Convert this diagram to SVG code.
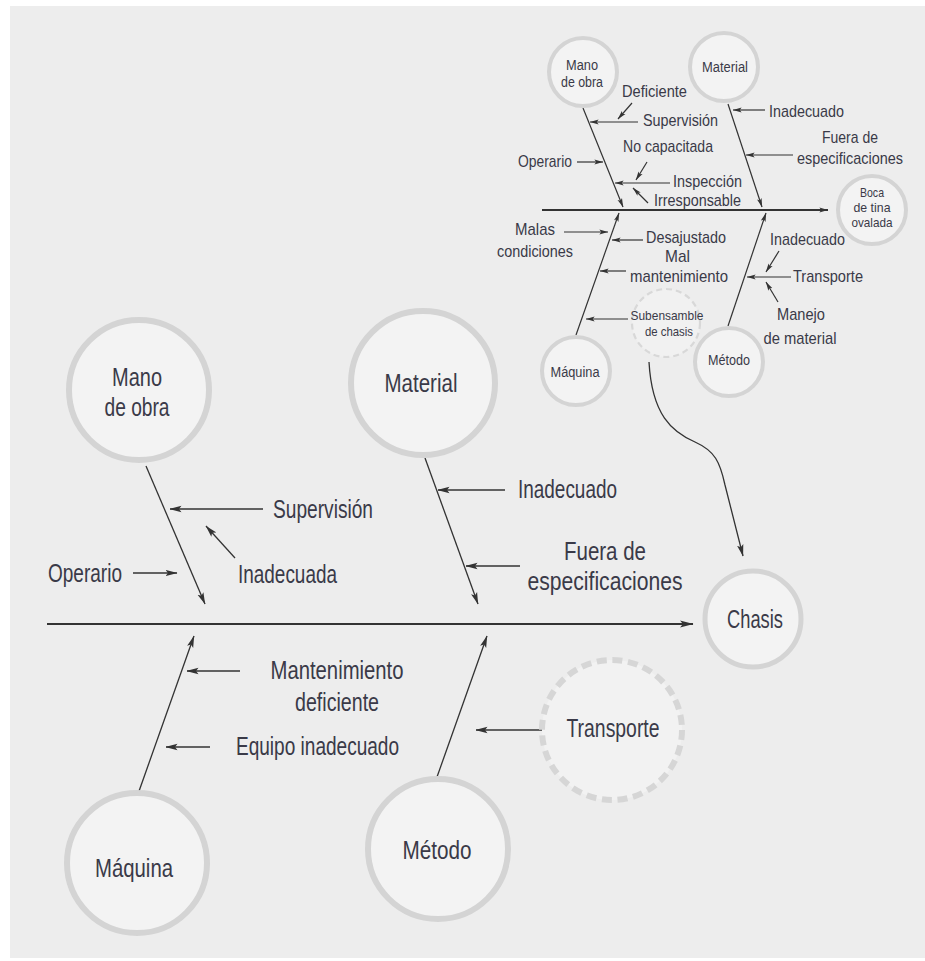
<svg xmlns="http://www.w3.org/2000/svg" width="925" height="961" viewBox="0 0 925 961">
<style>
.bg{fill:#ededed}
.c{fill:#f3f3f3;stroke:#d4d4d4;stroke-width:6}
.cs{fill:#f3f3f3;stroke:#d4d4d4;stroke-width:4}
.cd{fill:#f2f2f2;stroke:#d6d6d6;stroke-width:6;stroke-dasharray:10 5.7}
.cds{fill:#f1f1f1;stroke:#d8d8d8;stroke-width:2.2;stroke-dasharray:6 4}
.t{font-family:"Liberation Sans Narrow","Liberation Sans",Arial,sans-serif;fill:#3a3a48}
.L{font-size:26px}
.S{font-size:17px}
.N{font-size:14px}
.B{font-size:13px}
.m{text-anchor:middle}
.ln{stroke:#333;stroke-width:1.3;fill:none}
.sp{stroke:#333;stroke-width:2;fill:none}
.ls{stroke:#333;stroke-width:1.2;fill:none}
</style>
<defs>
<marker id="ah" viewBox="0 0 12 8" refX="11.5" refY="4" markerWidth="12" markerHeight="8" orient="auto" markerUnits="userSpaceOnUse"><path d="M0,0.8 L12,4 L0,7.2 L2.5,4 z" fill="#333"/></marker>
<marker id="ahs" viewBox="0 0 12 8" refX="11.5" refY="4" markerWidth="9" markerHeight="6" orient="auto" markerUnits="userSpaceOnUse"><path d="M0,0.8 L12,4 L0,7.2 L2.5,4 z" fill="#333"/></marker>
<marker id="ahb" viewBox="0 0 12 8" refX="11.5" refY="4" markerWidth="14" markerHeight="9" orient="auto" markerUnits="userSpaceOnUse"><path d="M0,0.8 L12,4 L0,7.2 L2.5,4 z" fill="#333"/></marker>
</defs>
<rect class="bg" x="10" y="6" width="915" height="952"/>

<g id="connectors">
<!-- main -->
<path class="sp" d="M47,624 L693,624" marker-end="url(#ahb)"/>
<path class="ln" d="M146,466 L205,604" marker-end="url(#ah)"/>
<path class="ln" d="M425,458 L478,604" marker-end="url(#ah)"/>
<path class="ln" d="M138,794 L194,636" marker-end="url(#ah)"/>
<path class="ln" d="M437,777 L487,636" marker-end="url(#ah)"/>
<path class="ln" d="M263,509 L170,509" marker-end="url(#ah)"/>
<path class="ln" d="M235,558 L206,526" marker-end="url(#ah)"/>
<path class="ln" d="M133,573 L177,573" marker-end="url(#ah)"/>
<path class="ln" d="M505,490 L438,490" marker-end="url(#ah)"/>
<path class="ln" d="M520,566 L466,566" marker-end="url(#ah)"/>
<path class="ln" d="M240,671 L187,671" marker-end="url(#ah)"/>
<path class="ln" d="M210,747 L166,747" marker-end="url(#ah)"/>
<path class="ln" d="M542,730 L476,730" marker-end="url(#ah)"/>
<path class="ln" d="M649,362 C652,415 672,432 695,442 C715,451 720,462 725,485 L743,556" marker-end="url(#ah)"/>
<!-- small -->
<path class="sp" d="M542,210 L828,210" marker-end="url(#ahs)"/>
<path class="ls" d="M583,108 L623,207" marker-end="url(#ahs)"/>
<path class="ls" d="M728,104 L762,207" marker-end="url(#ahs)"/>
<path class="ls" d="M576,335 L619,213" marker-end="url(#ahs)"/>
<path class="ls" d="M728,326 L766,213" marker-end="url(#ahs)"/>
<path class="ls" d="M632,103 L618,119" marker-end="url(#ahs)"/>
<path class="ls" d="M638,122 L590,122" marker-end="url(#ahs)"/>
<path class="ls" d="M577,162 L603,162" marker-end="url(#ahs)"/>
<path class="ls" d="M647,162 L636,180" marker-end="url(#ahs)"/>
<path class="ls" d="M670,183 L615,183" marker-end="url(#ahs)"/>
<path class="ls" d="M648,203 L633,188" marker-end="url(#ahs)"/>
<path class="ls" d="M765,110 L733,110" marker-end="url(#ahs)"/>
<path class="ls" d="M793,155 L746,155" marker-end="url(#ahs)"/>
<path class="ls" d="M564,232 L608,232" marker-end="url(#ahs)"/>
<path class="ls" d="M643,240 L612,240" marker-end="url(#ahs)"/>
<path class="ls" d="M626,271 L600,271" marker-end="url(#ahs)"/>
<path class="ls" d="M628,319 L586,319" marker-end="url(#ahs)"/>
<path class="ls" d="M779,251 L766,272" marker-end="url(#ahs)"/>
<path class="ls" d="M791,277 L747,277" marker-end="url(#ahs)"/>
<path class="ls" d="M778,302 L766,282" marker-end="url(#ahs)"/>
</g>

<!-- main nodes -->
<g id="mano-de-obra"><circle class="c" cx="139" cy="390" r="70"/><text class="t L m" x="137" y="386" textLength="50" lengthAdjust="spacingAndGlyphs">Mano</text><text class="t L m" x="137" y="416" textLength="65" lengthAdjust="spacingAndGlyphs">de obra</text></g>
<g id="material"><circle class="c" cx="423" cy="383" r="72"/><text class="t L m" x="421" y="392" textLength="73" lengthAdjust="spacingAndGlyphs">Material</text></g>
<g id="maquina"><circle class="c" cx="137" cy="863" r="70"/><text class="t L m" x="134" y="877" textLength="78" lengthAdjust="spacingAndGlyphs">Máquina</text></g>
<g id="metodo"><circle class="c" cx="438" cy="849" r="70"/><text class="t L m" x="437" y="859" textLength="69" lengthAdjust="spacingAndGlyphs">Método</text></g>
<g id="transporte"><circle class="cd" cx="612" cy="730" r="70"/><text class="t L m" x="613" y="737" textLength="93" lengthAdjust="spacingAndGlyphs">Transporte</text></g>
<g id="chasis"><circle class="c" cx="753" cy="619" r="48" style="stroke-width:5"/><text class="t L m" x="755" y="628" textLength="56" lengthAdjust="spacingAndGlyphs">Chasis</text></g>

<!-- main labels -->
<g id="lbl-supervision"><text class="t L" x="273" y="518" textLength="100" lengthAdjust="spacingAndGlyphs">Supervisión</text></g>
<g id="lbl-inadecuada"><text class="t L" x="238" y="583" textLength="99" lengthAdjust="spacingAndGlyphs">Inadecuada</text></g>
<g id="lbl-operario"><text class="t L" x="48" y="582" textLength="74" lengthAdjust="spacingAndGlyphs">Operario</text></g>
<g id="lbl-inadecuado"><text class="t L" x="518" y="498" textLength="99" lengthAdjust="spacingAndGlyphs">Inadecuado</text></g>
<g id="lbl-fuera"><text class="t L m" x="605" y="560" textLength="82" lengthAdjust="spacingAndGlyphs">Fuera de</text><text class="t L m" x="605" y="590" textLength="155" lengthAdjust="spacingAndGlyphs">especificaciones</text></g>
<g id="lbl-mantenimiento"><text class="t L m" x="337" y="679" textLength="133" lengthAdjust="spacingAndGlyphs">Mantenimiento</text><text class="t L m" x="337" y="711" textLength="84" lengthAdjust="spacingAndGlyphs">deficiente</text></g>
<g id="lbl-equipo"><text class="t L" x="236" y="755" textLength="163" lengthAdjust="spacingAndGlyphs">Equipo inadecuado</text></g>

<!-- small nodes -->
<g id="s-mano-de-obra"><circle class="cs" cx="583" cy="72" r="34"/><text class="t N m" x="582" y="70" textLength="32" lengthAdjust="spacingAndGlyphs">Mano</text><text class="t N m" x="582" y="87" textLength="42" lengthAdjust="spacingAndGlyphs">de obra</text></g>
<g id="s-material"><circle class="cs" cx="724" cy="67" r="34"/><text class="t N m" x="725" y="72" textLength="46" lengthAdjust="spacingAndGlyphs">Material</text></g>
<g id="s-boca"><circle class="cs" cx="872" cy="210" r="34"/><text class="t B m" x="872" y="197" textLength="24" lengthAdjust="spacingAndGlyphs">Boca</text><text class="t B m" x="872" y="212" textLength="37" lengthAdjust="spacingAndGlyphs">de tina</text><text class="t B m" x="872" y="227" textLength="41" lengthAdjust="spacingAndGlyphs">ovalada</text></g>
<g id="s-maquina"><circle class="cs" cx="576" cy="371" r="34"/><text class="t N m" x="575" y="377" textLength="49" lengthAdjust="spacingAndGlyphs">Máquina</text></g>
<g id="s-metodo"><circle class="cs" cx="729" cy="362" r="34"/><text class="t N m" x="729" y="365" textLength="42" lengthAdjust="spacingAndGlyphs">Método</text></g>
<g id="s-subensamble"><circle class="cds" cx="666" cy="323" r="34"/><text class="t B m" x="667" y="320" textLength="73" lengthAdjust="spacingAndGlyphs">Subensamble</text><text class="t B m" x="669" y="336" textLength="48" lengthAdjust="spacingAndGlyphs">de chasis</text></g>

<!-- small labels -->
<g id="s-lbl-deficiente"><text class="t S" x="622" y="97" textLength="65" lengthAdjust="spacingAndGlyphs">Deficiente</text></g>
<g id="s-lbl-supervision"><text class="t S" x="643" y="126" textLength="75" lengthAdjust="spacingAndGlyphs">Supervisión</text></g>
<g id="s-lbl-operario"><text class="t S" x="518" y="167" textLength="54" lengthAdjust="spacingAndGlyphs">Operario</text></g>
<g id="s-lbl-nocapacitada"><text class="t S" x="623" y="152" textLength="90" lengthAdjust="spacingAndGlyphs">No capacitada</text></g>
<g id="s-lbl-inspeccion"><text class="t S" x="673" y="187" textLength="69" lengthAdjust="spacingAndGlyphs">Inspección</text></g>
<g id="s-lbl-irresponsable"><text class="t S" x="654" y="206" textLength="87" lengthAdjust="spacingAndGlyphs">Irresponsable</text></g>
<g id="s-lbl-malas"><text class="t S m" x="535" y="235" textLength="40" lengthAdjust="spacingAndGlyphs">Malas</text><text class="t S m" x="535" y="257" textLength="76" lengthAdjust="spacingAndGlyphs">condiciones</text></g>
<g id="s-lbl-desajustado"><text class="t S" x="646" y="243" textLength="80" lengthAdjust="spacingAndGlyphs">Desajustado</text></g>
<g id="s-lbl-mal"><text class="t S" x="665" y="262" textLength="25" lengthAdjust="spacingAndGlyphs">Mal</text><text class="t S" x="630" y="282" textLength="98" lengthAdjust="spacingAndGlyphs">mantenimiento</text></g>
<g id="s-lbl-inadecuado1"><text class="t S" x="769" y="117" textLength="75" lengthAdjust="spacingAndGlyphs">Inadecuado</text></g>
<g id="s-lbl-fuera"><text class="t S m" x="850" y="143" textLength="56" lengthAdjust="spacingAndGlyphs">Fuera de</text><text class="t S m" x="850" y="164" textLength="106" lengthAdjust="spacingAndGlyphs">especificaciones</text></g>
<g id="s-lbl-inadecuado2"><text class="t S" x="770" y="245" textLength="75" lengthAdjust="spacingAndGlyphs">Inadecuado</text></g>
<g id="s-lbl-transporte"><text class="t S" x="793" y="282" textLength="70" lengthAdjust="spacingAndGlyphs">Transporte</text></g>
<g id="s-lbl-manejo"><text class="t S m" x="801" y="320" textLength="48" lengthAdjust="spacingAndGlyphs">Manejo</text><text class="t S m" x="800" y="344" textLength="73" lengthAdjust="spacingAndGlyphs">de material</text></g>
</svg>
